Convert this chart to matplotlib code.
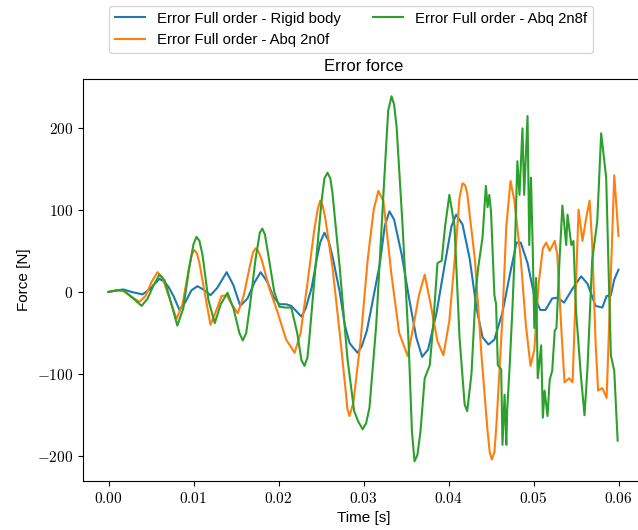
import numpy as np
import matplotlib
matplotlib.use("Agg")
import matplotlib.pyplot as plt
from matplotlib.ticker import FuncFormatter

# time in ms, force in N
t_rigid = [0, 1.06, 1.76, 2.7, 4.0, 4.82, 6.0, 6.6, 7.06, 7.65, 8.35, 9.06, 9.76, 10.47,
           11.3, 12.0, 12.8, 13.9, 14.7, 15.5, 16.35, 17.2, 17.9, 18.7, 19.4, 20.1, 20.9,
           21.5, 22.7, 23.2, 23.9, 24.5, 24.9, 25.4, 25.9, 26.4, 27.2, 27.8, 28.35, 28.8,
           29.3, 29.8, 30.4, 31.1, 31.9, 32.5, 33.05, 33.6, 34.5, 35.4, 36.2, 36.9, 37.6,
           38.6, 39.5, 40.35, 40.9, 41.65, 42.5, 43.3, 44.0, 44.7, 45.4, 46.35, 47.2, 48.0,
           48.5, 49.3, 50.1, 50.8, 51.4, 52.2, 52.8, 53.6, 54.6, 55.6, 56.35, 57.3, 58.1,
           58.6, 59.1, 59.5, 60.0]
f_rigid = [0, 2, 3, 0, -3, 3, 16, 12, 6, -5, -22, -12, 2, 7,
           2, -4, 5, 24, 8, -17, -8, 12, 24, 12, -6, -15, -15,
           -17, -30, -20, 5, 40, 60, 72, 62, 41, 0, -40, -62, -68,
           -74, -66, -47, -10, 33, 80, 98, 88, 45, -10, -55, -79, -70,
           -25, 30, 80, 94, 82, 40, -20, -55, -64, -58, -25, 20, 60,
           60, 35, -5, -22, -22, -8, -7, -13, 4, 19, 10, -17, -19,
           -5, -4, 15, 27]

t_2n0f = [0, 1.06, 1.76, 2.7, 3.65, 4.35, 5.06, 5.76, 6.35, 7.2, 8.0, 8.7, 9.4, 9.8, 10.1,
          10.4, 10.7, 11.3, 12.0, 12.7, 13.3, 13.9, 14.5, 15.2, 15.9, 16.6, 17.0, 17.3, 17.6,
          18.0, 18.9, 19.9, 20.9, 21.9, 22.6, 23.4, 24.2, 24.6, 24.9, 25.2, 25.5, 26.35,
          27.2, 27.9, 28.1, 28.35, 28.8, 29.65, 30.5, 31.2, 31.75, 32.35, 33.3, 34.2, 35.2,
          35.9, 36.5, 37.2, 37.9, 38.7, 39.4, 40.1, 40.9, 41.3, 41.65, 41.95, 42.2, 43.1,
          43.9, 44.6, 44.85, 45.1, 45.4, 45.65, 46.35, 46.8, 47.3, 47.75, 48.5, 49.1, 49.65,
          50.1, 50.6, 51.1, 51.5, 51.9, 52.5, 52.8, 53.3, 53.65, 54.2, 54.6, 54.9, 55.3,
          55.76, 56.2, 56.6, 56.9, 57.3, 57.6, 58.1, 58.6, 59.1, 59.5, 60.0]
f_2n0f = [0, 2, 1, -6, -12, -5, 12, 24, 17, -8, -33, -15, 25, 45, 51,
          47, 35, 0, -40, -22, -5, -4, -15, -26, -5, 30, 48, 53, 50,
          40, 5, -25, -58, -74, -50, 10, 75, 100, 111, 105, 90, 30,
          -50, -120, -142, -151, -135, -60, 40, 100, 123, 110, 20, -50, -78,
          -40, -5, 21, -15, -60, -77, -35, 60, 115, 132, 130, 120, 40,
          -80, -170, -195, -204, -195, -160, -30, 80, 135, 111, 40, -40, -90,
          -70, 10, 53, 60, 50, 62, 45, -50, -110, -105, -110, -20, 100,
          62, 90, 111, 60, -60, -120, -117, -129, 20, 142, 68]

t_2n8f = [0, 1.06, 1.76, 2.7, 3.9, 4.6, 5.3, 6.0, 6.6, 7.4, 8.1, 8.8, 9.5, 10.0, 10.35,
          10.7, 11.06, 11.76, 12.5, 13.2, 14.0, 14.7, 15.4, 15.8, 16.2, 16.6, 17.3, 17.8,
          18.1, 18.4, 18.8, 19.5, 20.1, 20.8, 21.5, 22.2, 22.7, 23.06, 23.4, 23.6, 24.35,
          25.06, 25.4, 25.76, 26.1, 26.35, 27.2, 28.1, 28.9, 29.4, 29.9, 30.3, 30.7, 31.5,
          32.35, 32.9, 33.3, 33.6, 33.9, 34.6, 35.3, 35.7, 36.0, 36.35, 36.7, 37.2, 37.8,
          38.2, 38.7, 39.2, 39.6, 40.1, 40.7, 41.3, 41.9, 42.2, 42.7, 43.2, 43.5, 44.0,
          44.4, 44.6, 44.8, 45.0, 45.4, 45.6, 45.8, 46.2, 46.35, 46.6, 46.8, 46.9, 47.2,
          47.5, 47.8, 48.1, 48.35, 48.7, 48.9, 49.3, 49.5, 49.7, 49.9, 50.1, 50.3, 50.5,
          50.9, 51.1, 51.3, 51.65, 51.9, 52.2, 52.5, 52.7, 53.06, 53.4, 53.85, 54.0, 54.45,
          54.7, 55.0, 55.6, 56.0, 56.35, 56.9, 57.5, 57.96, 58.55, 59.1, 59.5, 59.9]
f_2n8f = [0, 2, 2, -6, -17, -8, 8, 21, 14, -15, -41, -20, 30, 58, 67,
          62, 45, -10, -38, -15, -1, -20, -50, -59, -50, -20, 40, 72,
          77, 70, 45, 0, -18, -19, -19, -50, -83, -90, -80, -60, 30,
          110, 138, 145, 138, 120, 30, -80, -145, -158, -167, -160, -141, -40,
          120, 220, 238, 228, 200, 80, -60, -170, -206, -198, -170, -105, -89,
          -40, 35, 38, 80, 118, 81, -56, -137, -145, -100, 0, 30, 66,
          129, 103, 118, 98, -4, -15, -89, -94, -186, -125, -186, -145, -89,
          -25, 50, 159, 118, 199, 118, 214, 57, 139, 57, -44, 17, -105,
          -65, -153, -120, -151, -107, -96, -47, -44, 39, 105, 57, 94, 57,
          62, -23, -105, -150, -93, 38, 86, 193, 139, -77, -96, -181]

labels = ["Error Full order - Rigid body",
          "Error Full order - Abq 2n0f",
          "Error Full order - Abq 2n8f"]

plt.rcParams["font.family"] = ["Liberation Sans", "DejaVu Sans"]
plt.rcParams["mathtext.fontset"] = "cm"

fig = plt.figure(figsize=(6.38, 5.30), dpi=100)
ax = fig.add_axes([83 / 638, 49 / 530, 561 / 638, 402 / 530])

for t, f, lab in [(t_rigid, f_rigid, labels[0]),
                  (t_2n0f, f_2n0f, labels[1]),
                  (t_2n8f, f_2n8f, labels[2])]:
    ax.plot(np.array(t) / 1000.0, f, lw=1.5, label=lab)

ax.set_xlim(-0.003, 0.063)
ax.set_ylim(-230, 259)
ax.set_xticks(np.arange(0, 0.061, 0.01))
ax.set_yticks([-200, -100, 0, 100, 200])
ax.xaxis.set_major_formatter(FuncFormatter(lambda v, p: f"${v:.2f}$"))
ax.yaxis.set_major_formatter(FuncFormatter(lambda v, p: f"${int(round(v))}$"))
ax.tick_params(labelsize=11)

ax.set_xlabel("Time [s]", fontsize=11)
ax.set_ylabel("Force [N]", fontsize=11)
ax.set_title("Error force", fontsize=12)

fig.legend(loc="lower left", bbox_to_anchor=(109 / 638, 1 - 53 / 530),
           borderaxespad=0, ncol=2, fontsize=10.7, columnspacing=2.2,
           frameon=True)

fig.savefig("out.png", dpi=100)
